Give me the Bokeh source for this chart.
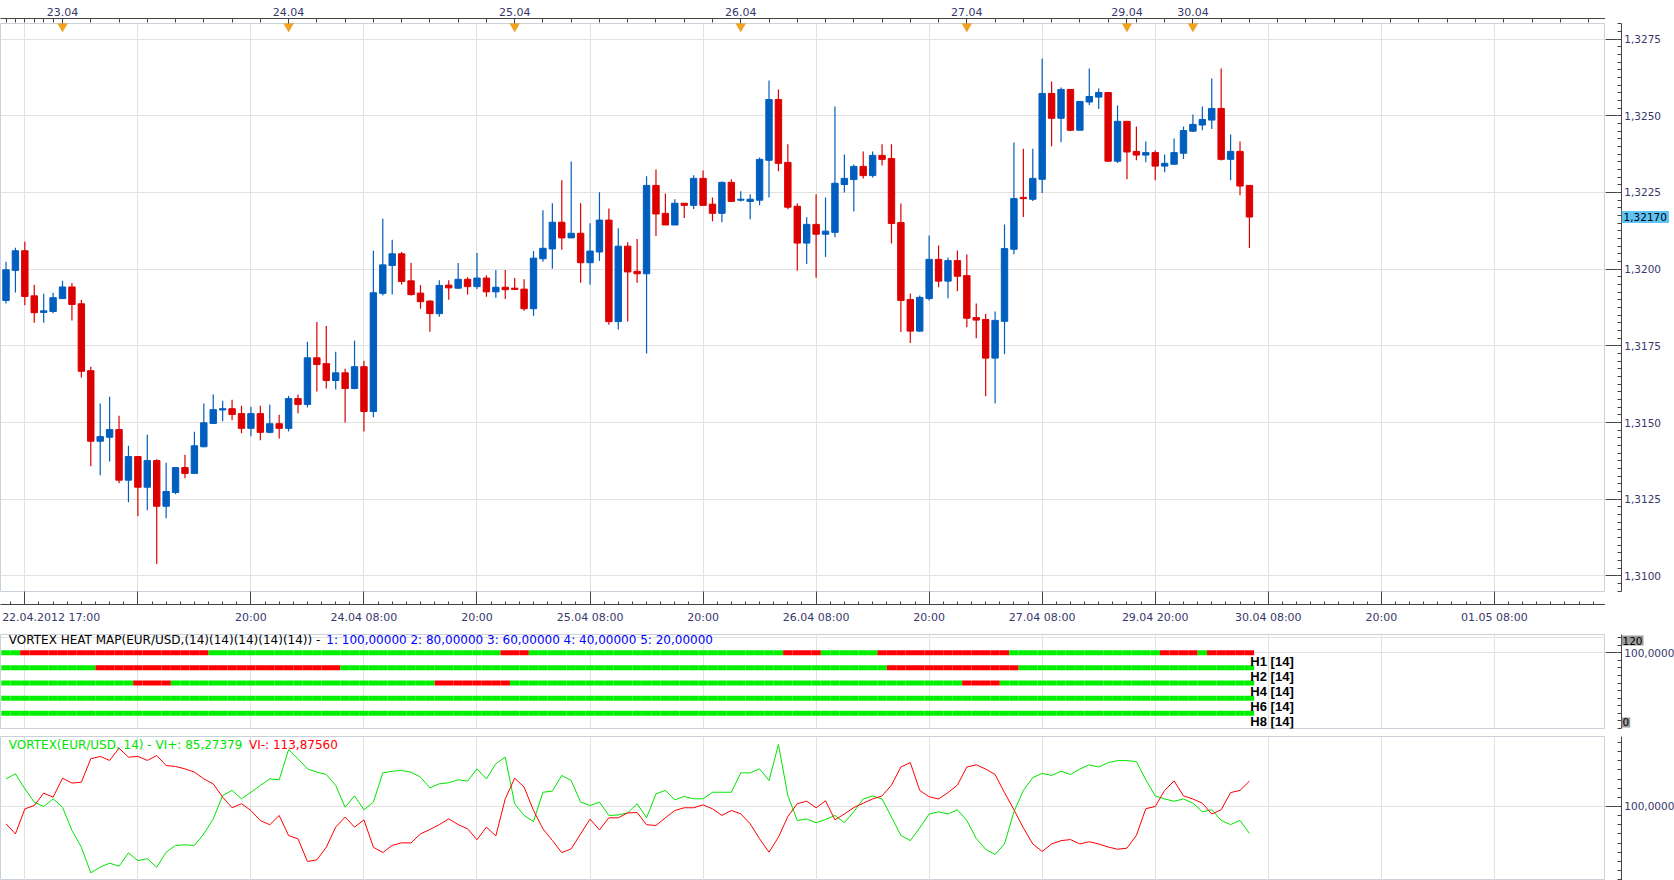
from bokeh.plotting import figure
from bokeh.models import (Range1d, FixedTicker, Label, LinearAxis, ColumnDataSource, Grid)
from bokeh.layouts import column, row
from bokeh.embed import file_html
from bokeh.resources import INLINE
from bokeh.core.properties import value

# ---------------- data (hourly EUR/USD candles, index = hour slot) ----------------
opens = [1.31898, 1.31996, 1.32060, 1.31913, 1.31859, 1.31862, 1.31904, 1.31942, 1.31887, 1.31669,
         1.31439, 1.31452, 1.31477, 1.31312, 1.31389, 1.31289, 1.31376, 1.31227, 1.31272, 1.31353,
         1.31334, 1.31421, 1.31497, 1.31541, 1.31545, 1.31529, 1.31481, 1.31529, 1.31468, 1.31496,
         1.31481, 1.31578, 1.31559, 1.31711, 1.31692, 1.31637, 1.31662, 1.31611, 1.31682, 1.31536,
         1.31921, 1.32012, 1.32050, 1.31962, 1.31922, 1.31896, 1.31855, 1.31948, 1.31938, 1.31967,
         1.31943, 1.31971, 1.31926, 1.31941, 1.31938, 1.31935, 1.31871, 1.32034, 1.32066, 1.32153,
         1.32102, 1.32117, 1.32021, 1.32056, 1.32160, 1.31829, 1.32075, 1.31993, 1.31985, 1.32273,
         1.32182, 1.32144, 1.32215, 1.32208, 1.32296, 1.32212, 1.32182, 1.32283, 1.32225, 1.32221,
         1.32225, 1.32355, 1.32553, 1.32348, 1.32205, 1.32085, 1.32146, 1.32114, 1.32120, 1.32276,
         1.32292, 1.32335, 1.32305, 1.32371, 1.32361, 1.32152, 1.31901, 1.31798, 1.31904, 1.32032,
         1.31961, 1.32028, 1.31979, 1.31842, 1.31836, 1.31710, 1.31830, 1.32065, 1.32234, 1.32228,
         1.32293, 1.32573, 1.32492, 1.32586, 1.32453, 1.32545, 1.32561, 1.32576, 1.32352, 1.32482,
         1.32384, 1.32372, 1.32380, 1.32336, 1.32342, 1.32378, 1.32450, 1.32470, 1.32486, 1.32524,
         1.32358, 1.32384, 1.32273]
highs = [1.32024, 1.32070, 1.32089, 1.31949, 1.31920, 1.31923, 1.31962, 1.31955, 1.31900, 1.31682,
         1.31562, 1.31584, 1.31522, 1.31424, 1.31389, 1.31460, 1.31380, 1.31369, 1.31353, 1.31395,
         1.31470, 1.31562, 1.31591, 1.31571, 1.31574, 1.31555, 1.31551, 1.31555, 1.31558, 1.31525,
         1.31587, 1.31591, 1.31763, 1.31828, 1.31815, 1.31731, 1.31675, 1.31767, 1.31701, 1.32060,
         1.32164, 1.32096, 1.32056, 1.32021, 1.31948, 1.31899, 1.31964, 1.31964, 1.32020, 1.31974,
         1.32053, 1.31980, 1.31997, 1.31997, 1.31971, 1.31967, 1.32059, 1.32192, 1.32215, 1.32290,
         1.32351, 1.32215, 1.32150, 1.32251, 1.32198, 1.32133, 1.32088, 1.32098, 1.32303, 1.32325,
         1.32247, 1.32228, 1.32215, 1.32306, 1.32322, 1.32234, 1.32286, 1.32293, 1.32254, 1.32244,
         1.32364, 1.32615, 1.32586, 1.32407, 1.32215, 1.32169, 1.32244, 1.32234, 1.32530, 1.32374,
         1.32341, 1.32384, 1.32384, 1.32407, 1.32407, 1.32214, 1.31921, 1.31914, 1.32110, 1.32077,
         1.32038, 1.32061, 1.32048, 1.31888, 1.31855, 1.31862, 1.32146, 1.32413, 1.32393, 1.32393,
         1.32687, 1.32612, 1.32592, 1.32586, 1.32547, 1.32654, 1.32589, 1.32576, 1.32534, 1.32482,
         1.32465, 1.32416, 1.32387, 1.32374, 1.32426, 1.32465, 1.32504, 1.32530, 1.32622, 1.32654,
         1.32439, 1.32416, 1.32273]
lows = [1.31888, 1.31924, 1.31882, 1.31825, 1.31825, 1.31856, 1.31904, 1.31833, 1.31647, 1.31357,
        1.31328, 1.31373, 1.31302, 1.31240, 1.31194, 1.31214, 1.31039, 1.31188, 1.31266, 1.31318,
        1.31334, 1.31419, 1.31497, 1.31504, 1.31507, 1.31465, 1.31455, 1.31442, 1.31465, 1.31448,
        1.31471, 1.31530, 1.31549, 1.31601, 1.31611, 1.31608, 1.31500, 1.31608, 1.31471, 1.31517,
        1.31914, 1.31917, 1.31950, 1.31914, 1.31871, 1.31796, 1.31845, 1.31900, 1.31935, 1.31917,
        1.31935, 1.31910, 1.31907, 1.31903, 1.31932, 1.31864, 1.31848, 1.32024, 1.32001, 1.32063,
        1.32102, 1.31956, 1.31949, 1.32027, 1.31819, 1.31803, 1.31829, 1.31956, 1.31725, 1.32108,
        1.32144, 1.32144, 1.32167, 1.32196, 1.32208, 1.32156, 1.32153, 1.32221, 1.32221, 1.32163,
        1.32208, 1.32234, 1.32319, 1.32195, 1.31995, 1.32017, 1.31972, 1.32040, 1.32104, 1.32250,
        1.32188, 1.32296, 1.32299, 1.32338, 1.32084, 1.31795, 1.31759, 1.31795, 1.31898, 1.31941,
        1.31905, 1.31928, 1.31811, 1.31775, 1.31586, 1.31563, 1.31723, 1.32049, 1.32170, 1.32222,
        1.32248, 1.32401, 1.32414, 1.32450, 1.32453, 1.32535, 1.32522, 1.32352, 1.32346, 1.32293,
        1.32355, 1.32349, 1.32290, 1.32316, 1.32342, 1.32359, 1.32447, 1.32453, 1.32457, 1.32354,
        1.32290, 1.32241, 1.32069]
closes = [1.31998, 1.32060, 1.31911, 1.31858, 1.31864, 1.31907, 1.31942, 1.31885, 1.31667, 1.31439,
          1.31454, 1.31477, 1.31312, 1.31389, 1.31289, 1.31376, 1.31227, 1.31275, 1.31353, 1.31334,
          1.31424, 1.31499, 1.31542, 1.31545, 1.31526, 1.31481, 1.31529, 1.31468, 1.31496, 1.31481,
          1.31578, 1.31559, 1.31711, 1.31689, 1.31637, 1.31662, 1.31611, 1.31682, 1.31536, 1.31923,
          1.32014, 1.32050, 1.31960, 1.31917, 1.31894, 1.31855, 1.31947, 1.31939, 1.31967, 1.31943,
          1.31971, 1.31926, 1.31941, 1.31933, 1.31934, 1.31871, 1.32036, 1.32068, 1.32153, 1.32102,
          1.32117, 1.32021, 1.32059, 1.32160, 1.31829, 1.32075, 1.31991, 1.31985, 1.32273, 1.32180,
          1.32144, 1.32215, 1.32208, 1.32296, 1.32208, 1.32182, 1.32283, 1.32221, 1.32228, 1.32228,
          1.32358, 1.32553, 1.32345, 1.32202, 1.32085, 1.32146, 1.32114, 1.32124, 1.32280, 1.32296,
          1.32335, 1.32305, 1.32371, 1.32358, 1.32149, 1.31898, 1.31798, 1.31908, 1.32032, 1.31961,
          1.32028, 1.31977, 1.31840, 1.31834, 1.31710, 1.31833, 1.32067, 1.32230, 1.32230, 1.32296,
          1.32573, 1.32492, 1.32586, 1.32453, 1.32547, 1.32563, 1.32576, 1.32352, 1.32482, 1.32382,
          1.32372, 1.32380, 1.32336, 1.32345, 1.32380, 1.32452, 1.32472, 1.32488, 1.32524, 1.32358,
          1.32384, 1.32271, 1.32170]

vi_plus = [115.1, 117.9, 109.7, 102.4, 100.0, 104.2, 99.6, 86.9, 77.7, 63.7,
           66.8, 69.0, 67.3, 74.6, 70.4, 71.4, 66.8, 75.0, 78.7, 79.0,
           78.7, 85.0, 93.2, 106.0, 108.8, 104.2, 107.8, 111.5, 115.1, 114.6,
           131.2, 126.1, 120.6, 118.8, 117.5, 111.5, 99.6, 105.8, 98.2, 102.4,
           118.4, 119.3, 119.7, 118.8, 116.1, 110.2, 112.4, 113.0, 114.6, 113.9,
           120.6, 115.1, 123.4, 127.0, 101.5, 95.1, 91.8, 107.8, 108.4, 117.0,
           114.2, 102.4, 100.5, 102.4, 95.1, 95.4, 96.5, 101.5, 93.8, 106.9,
           108.8, 103.6, 105.5, 104.2, 104.2, 107.8, 107.8, 107.8, 118.4, 118.4,
           120.6, 114.2, 133.9, 106.0, 92.3, 93.2, 91.1, 92.9, 95.1, 91.2,
           97.1, 104.1, 105.8, 104.1, 94.2, 84.2, 81.3, 88.3, 95.9, 97.1,
           95.9, 98.2, 92.4, 82.5, 76.6, 73.7, 79.5, 97.1, 108.8, 115.8,
           118.1, 117.0, 119.3, 117.5, 120.5, 122.8, 121.6, 124.0, 125.1, 125.1,
           124.6, 114.6, 105.8, 104.1, 102.9, 104.1, 101.8, 97.1, 98.2, 92.4,
           90.1, 92.4, 85.27]
vi_minus = [90.5, 85.0, 98.7, 100.5, 107.3, 105.1, 115.5, 112.8, 113.3, 126.1,
            127.4, 125.2, 131.9, 127.0, 127.4, 125.2, 127.9, 122.4, 121.9, 120.6,
            118.8, 115.1, 112.4, 105.1, 99.3, 101.5, 97.8, 92.3, 90.0, 95.1,
            84.1, 82.3, 69.9, 70.8, 77.7, 88.7, 94.2, 88.7, 92.7, 77.7,
            74.8, 78.7, 80.1, 80.1, 85.0, 87.4, 90.1, 93.2, 90.1, 87.8,
            81.8, 88.7, 83.9, 104.2, 115.5, 110.6, 97.8, 87.8, 81.4, 74.8,
            76.8, 85.0, 93.1, 87.2, 93.8, 93.8, 96.5, 96.7, 90.0, 89.6,
            93.8, 97.8, 99.3, 99.3, 100.9, 98.7, 95.1, 97.8, 96.0, 90.5,
            82.3, 75.0, 83.2, 94.5, 101.5, 102.9, 99.3, 103.1, 92.7, 95.9,
            99.4, 101.8, 104.1, 105.8, 111.7, 121.6, 124.0, 108.8, 105.3, 104.1,
            107.6, 111.7, 121.6, 122.8, 120.5, 117.5, 107.6, 98.2, 88.3, 79.5,
            75.4, 79.5, 81.3, 81.9, 79.5, 80.7, 79.5, 77.8, 76.6, 77.2,
            84.2, 98.8, 100.0, 108.8, 114.0, 105.8, 104.1, 101.8, 95.9, 98.2,
            107.6, 108.8, 113.88]

day_ticks = [6, 30, 54, 78, 102, 119, 126]
day_labels = ["23.04", "24.04", "25.04", "26.04", "27.04", "29.04", "30.04"]
time_ticks = [2, 14, 26, 38, 50, 62, 74, 86, 98, 110, 122, 134, 146, 158]
time_labels = ["", "", "20:00", "24.04 08:00", "20:00", "25.04 08:00", "20:00",
               "26.04 08:00", "20:00", "27.04 08:00", "29.04 20:00", "30.04 08:00",
               "20:00", "01.05 08:00"]
first_time_slot = 4.8
first_time_label = "22.04.2012 17:00"
price_ticks = [1.3100, 1.3125, 1.3150, 1.3175, 1.3200, 1.3225, 1.3250, 1.3275]
price_tick_labels = ["1,3100", "1,3125", "1,3150", "1,3175", "1,3200", "1,3225", "1,3250", "1,3275"]
last_price_label = "1,32170"
last_price = 1.32170

heat_names = ["H1 [14]", "H2 [14]", "H4 [14]", "H6 [14]", "H8 [14]"]
heat_levels = [100, 80, 60, 40, 20]
heat_red_runs = [[(2, 22), (53, 56), (83, 87), (93, 107), (123, 127), (128, 133)],
                 [(10, 36), (94, 108)],
                 [(14, 18), (46, 54), (102, 106)],
                 [],
                 []]
heat_title = "VORTEX HEAT MAP(EUR/USD,(14)(14)(14)(14)(14)) -"
heat_params = "1: 100,00000  2: 80,00000  3: 60,00000  4: 40,00000  5: 20,00000"
heat_axis_ticks = [100]
heat_axis_labels = ["100,0000"]
heat_scale_top, heat_scale_bottom = "120", "0"
vortex_title = "VORTEX(EUR/USD, 14) -  VI+: 85,27379"
vortex_minus = "VI-: 113,87560"
vortex_axis_ticks = [100]
vortex_axis_labels = ["100,0000"]

# ---------------- style ----------------
FONT = "DejaVu Sans"
AXC = "#38386A"
GRIDC = "#E2E2E2"
TICKC = "#444444"
BLUE = "#005EBF"
RED = "#DD0000"
HGREEN = "#00F000"
HRED = "#FF0000"
MAIN_W = 1605
SIDE_W = 69
X0, X1 = -0.584, 169.8
xr = Range1d(X0, X1)


def boxed(lbl, pad):
    try:
        lbl.padding = pad
    except AttributeError:
        pass
    return lbl


def base_fig(height, yr, top, bottom):
    p = figure(width=MAIN_W, height=height, x_range=xr, y_range=yr,
               output_backend="svg", toolbar_location=None,
               x_axis_location=None, y_axis_location=None,
               min_border_left=0, min_border_right=0,
               min_border_top=top, min_border_bottom=bottom)
    p.center = [r for r in p.center if not isinstance(r, Grid)]
    p.background_fill_color = "white"
    p.border_fill_color = "white"
    p.outline_line_color = "#C9D1DA"
    p.add_layout(Grid(dimension=0, ticker=FixedTicker(ticks=time_ticks),
                      grid_line_color=GRIDC, grid_line_width=1))
    return p


def tick_strip(ticks, length, line=False):
    # an axis that only draws tick marks (as minor ticks, so no labels exist)
    return LinearAxis(ticker=FixedTicker(ticks=[], minor_ticks=ticks),
                      axis_line_color=TICKC if line else None,
                      major_tick_out=0 if line else length, major_tick_in=0,
                      minor_tick_out=length, minor_tick_in=0,
                      minor_tick_line_color=TICKC, major_label_standoff=0)


def side_fig(height, yr, top, bottom, major, minor, labels):
    # right-hand value scale: axis line + ticks, labels and value boxes
    s = figure(width=SIDE_W, height=height, x_range=Range1d(0, SIDE_W - 12), y_range=yr,
               output_backend="svg", toolbar_location=None,
               x_axis_location=None, y_axis_location=None,
               min_border_left=12, min_border_right=0,
               min_border_top=top, min_border_bottom=bottom)
    s.center = [r for r in s.center if not isinstance(r, Grid)]
    s.background_fill_color = "white"
    s.border_fill_color = "white"
    s.outline_line_color = None
    s.add_layout(tick_strip(minor, 4, line=True), "left")
    s.add_layout(tick_strip(major, 12), "left")
    s.text(x=[3] * len(major), y=major, text=labels, text_baseline="middle",
           text_align="left", text_font=value(FONT), text_font_size="10.5px",
           text_color=AXC)
    return s


# ---------------- main candle chart ----------------
Y0, Y1 = 1.30949, 1.32801
PX = (Y1 - Y0) / 568.0
yr_main = Range1d(Y0, Y1)
main = base_fig(627, yr_main, 23, 36)
main.add_layout(Grid(dimension=1, ticker=FixedTicker(ticks=price_ticks),
                     grid_line_color=GRIDC, grid_line_width=1))

N = len(opens)
xs = list(range(N))
cols = [BLUE if c >= o else RED for o, c in zip(opens, closes)]
src = ColumnDataSource(dict(x=xs, o=opens, h=highs, l=lows, c=closes,
                            top=[max(o, c) for o, c in zip(opens, closes)],
                            bot=[min(o, c) for o, c in zip(opens, closes)],
                            col=cols))
main.segment(x0="x", y0="l", x1="x", y1="h", line_color="col", line_width=1.2, source=src)
main.vbar(x="x", width=0.68, top="top", bottom="bot", fill_color="col",
          line_color="col", line_width=1, source=src)

# top date axis
top_minor = [0, 1, 2, 3, 4, 5] + [k for k in range(9, 170, 3) if k not in day_ticks]
t2 = LinearAxis(ticker=FixedTicker(ticks=day_ticks, minor_ticks=top_minor),
                axis_line_color=TICKC, major_tick_out=0, major_tick_in=0,
                minor_tick_in=4, minor_tick_out=0, minor_tick_line_color=TICKC,
                major_label_standoff=3, major_label_text_font=FONT,
                major_label_text_font_size="11px", major_label_text_color=AXC,
                major_label_overrides={k: s for k, s in zip(day_ticks, day_labels)})
main.add_layout(tick_strip(day_ticks, 5), "above")
main.add_layout(t2, "above")
main.scatter(x=day_ticks, y=[Y1 - 2.5 * PX] * len(day_ticks), marker="inverted_triangle",
             size=10, fill_color="#F5A21C", line_color="#E08A00", line_width=0.5)

# bottom time axis
b_minor = [2 + 1.5 * i for i in range(-1, 113) if (2 + 1.5 * i) not in time_ticks]
b_ticks = [first_time_slot] + time_ticks
b_labels = {first_time_slot: first_time_label}
b_labels.update({k: s for k, s in zip(time_ticks, time_labels)})
b2 = LinearAxis(ticker=FixedTicker(ticks=b_ticks, minor_ticks=b_minor),
                axis_line_color=TICKC, major_tick_out=0, major_tick_in=0,
                minor_tick_in=3, minor_tick_out=0, minor_tick_line_color=TICKC,
                major_label_standoff=6, major_label_text_font=FONT,
                major_label_text_font_size="11px", major_label_text_color=AXC,
                major_label_overrides=b_labels)
main.add_layout(tick_strip(time_ticks, 13), "below")
main.add_layout(b2, "below")

minor_price = [round(1.3095 + 0.00025 * i, 5) for i in range(75)]
side_main = side_fig(627, yr_main, 23, 36, price_ticks, minor_price, price_tick_labels)
side_main.add_layout(boxed(Label(x=0, y=last_price, text=last_price_label,
                                 text_baseline="middle", text_align="left", text_font=FONT,
                                 text_font_size="10.5px", text_color="black",
                                 background_fill_color="#5EC4F5"), 2))

# ---------------- heat map panel ----------------
yr_heat = Range1d(0, 124)
heat = base_fig(104, yr_heat, 7, 3)
heat.add_layout(Grid(dimension=1, ticker=FixedTicker(ticks=[100, 120]),
                     grid_line_color=GRIDC, grid_line_width=1))
hx0, hx1, hy, hc = [], [], [], []
for lvl, runs in zip(heat_levels, heat_red_runs):
    red = set()
    for a, b in runs:
        red.update(range(a, b))
    for k in range(N):
        hx0.append(k - 0.5)
        hx1.append(k + 0.5)
        hy.append(lvl)
        hc.append(HRED if k in red else HGREEN)
heat.segment(x0=hx0, y0=hy, x1=hx1, y1=hy, line_color=hc, line_width=5)
heat.text(x=[N - 0.9] * len(heat_levels), y=heat_levels, text=heat_names,
          text_baseline="top", text_align="left", y_offset=1,
          text_font=value("Liberation Sans"), text_font_style="bold",
          text_font_size="13px", text_color="black")
heat.add_layout(Label(x=0.3, y=116.5, text=heat_title, text_baseline="middle",
                      text_font=FONT, text_font_size="12px", text_color="black"))
heat.add_layout(Label(x=34.0, y=116.5, text=heat_params, text_baseline="middle",
                      text_font=FONT, text_font_size="12px", text_color="#0000FF"))

side_heat = side_fig(104, yr_heat, 7, 3, heat_axis_ticks, list(range(0, 125, 10)),
                     heat_axis_labels)
side_heat.add_layout(boxed(Label(x=0, y=116, text=heat_scale_top, text_baseline="middle",
                                 text_font=FONT, text_font_size="10.5px", text_color="black",
                                 background_fill_color="#9C9C9C"), 1))
side_heat.add_layout(boxed(Label(x=0, y=8, text=heat_scale_bottom, text_baseline="middle",
                                 text_font=FONT, text_font_size="10.5px", text_color="black",
                                 background_fill_color="#9C9C9C"), 1))

# ---------------- vortex panel ----------------
yr_vort = Range1d(59.5, 138.3)
vort = base_fig(149, yr_vort, 5, 0)
vort.add_layout(Grid(dimension=1, ticker=FixedTicker(ticks=[100]),
                     grid_line_color=GRIDC, grid_line_width=1))
vort.line(xs, vi_plus, line_color="#00E400", line_width=1)
vort.line(xs, vi_minus, line_color="#FF0000", line_width=1)
vort.add_layout(Label(x=0.3, y=133.5, text=vortex_title, text_baseline="middle",
                      text_font=FONT, text_font_size="12px", text_color="#00E400"))
vort.add_layout(Label(x=25.8, y=133.5, text=vortex_minus, text_baseline="middle",
                      text_font=FONT, text_font_size="12px", text_color="#FF0000"))
side_vort = side_fig(149, yr_vort, 5, 0, vortex_axis_ticks, [60 + 5 * i for i in range(16)],
                     vortex_axis_labels)

layout = column(row(main, side_main, spacing=0), row(heat, side_heat, spacing=0),
                row(vort, side_vort, spacing=0), spacing=0)
open("out.html", "w").write(file_html(layout, INLINE))
